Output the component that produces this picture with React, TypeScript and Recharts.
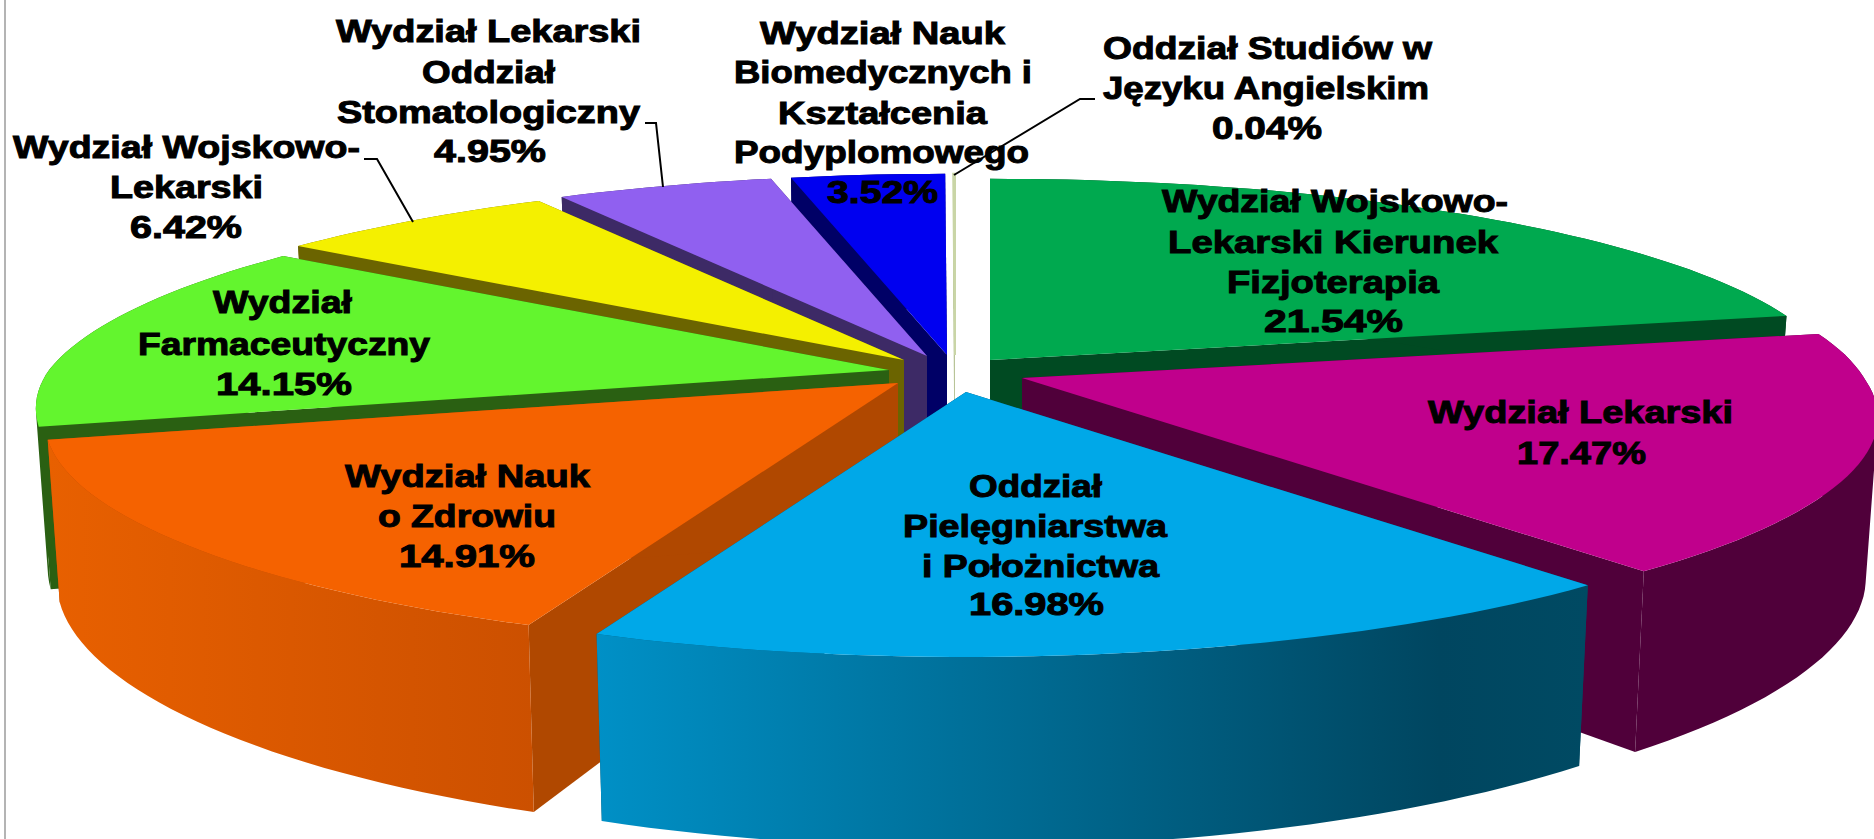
import { PieChart, Pie } from "recharts";

// values as printed on the chart, clockwise from 12 o'clock
const categories = [
  "Wydział Wojskowo-Lekarski Kierunek Fizjoterapia",
  "Wydział Lekarski",
  "Oddział Pielęgniarstwa i Położnictwa",
  "Wydział Nauk o Zdrowiu",
  "Wydział Farmaceutyczny",
  "Wydział Wojskowo-Lekarski",
  "Wydział Lekarski Oddział Stomatologiczny",
  "Wydział Nauk Biomedycznych i Kształcenia Podyplomowego",
  "Oddział Studiów w Języku Angielskim",
];
const shares = [21.54, 17.47, 16.98, 14.91, 14.15, 6.42, 4.95, 3.52, 0.04];
const labelLines = [
  ["Wydział Wojskowo-", "Lekarski Kierunek", "Fizjoterapia"],
  ["Wydział Lekarski"],
  ["Oddział", "Pielęgniarstwa", "i Położnictwa"],
  ["Wydział Nauk", "o Zdrowiu"],
  ["Wydział", "Farmaceutyczny"],
  ["Wydział Wojskowo-", "Lekarski"],
  ["Wydział Lekarski", "Oddział", "Stomatologiczny"],
  ["Wydział Nauk", "Biomedycznych i", "Kształcenia", "Podyplomowego"],
  ["Oddział Studiów w", "Języku Angielskim"],
];

const topColors = ["#00a94f", "#c0008c", "#00a8e8", "#f56200", "#63f52e", "#f4f000", "#9060f0", "#0000f0", "#c9d5a6"];
const edgeColors = ["#004a22", "#50003a", "#004a63", "#b04800", "#2a6012", "#6b6400", "#3d2a66", "#000066", "#b8c498"];
const rimFills = ["#004a22", "#50003a", "url(#blueRim)", "url(#orangeRim)", "#2a6012", "#6b6400", "#3d2a66", "#000066", "#b8c498"];

// painter's order, back to front
const drawOrder = [0, 8, 7, 6, 5, 4, 3, 1, 2];

// where each exploded slice's tip lands, relative to the pie centre
const tipOffsets = [
  [40, -6],
  [72, 12],
  [16, 26],
  [-52, 17],
  [-61, 4],
  [-46, -6],
  [-23, -10],
  [-3, -11],
  [5, -11],
];

// [left, right, baseline] for each text row, last row is the percentage
const labelRows = [
  [[1162, 1508, 212], [1168, 1498, 253], [1227, 1439, 293], [1264, 1403, 332]],
  [[1428, 1733, 423], [1517, 1646, 464]],
  [[969, 1102, 497], [903, 1167, 537], [922, 1159, 577], [969, 1104, 615]],
  [[345, 590, 487], [378, 556, 527], [399, 535, 567]],
  [[213, 352, 313], [138, 430, 355], [216, 352, 395]],
  [[13, 360, 158], [110, 263, 198], [130, 242, 238]],
  [[336, 641, 42], [422, 555, 83], [337, 640, 123], [434, 546, 162]],
  [[760, 1005, 44], [734, 1032, 83], [778, 987, 124], [734, 1029, 163], [827, 938, 203]],
  [[1103, 1432, 59], [1103, 1429, 99], [1212, 1322, 139]],
];
const leaderLines: Record<number, string> = {
  5: "364,159 377,159 413,222",
  6: "645,123 656,123 663,187",
  8: "1095,99 1080,99 954,175",
};

const chartData = categories.map((name, i) => ({ name, value: shares[i] }));

const CX = 950;
const CY = 366;
const RADIUS = 840;
const RIGHT_STRETCH = 842 / 840;
const MINOR_AXIS = 212;
const PERSPECTIVE_FRONT = 0.2;
const PERSPECTIVE_BACK = 0.17;
const DEPTH = 155;
const BOTTOM_SCALE = 0.986;

// the source picture is not a true projection, so x bends differently per quadrant
function xFalloff(sinT: number, yn: number) {
  if (sinT >= 0) return yn >= 0 ? 0.179 : 0.15;
  return yn >= 0 ? 0.175 : 0.2;
}

function project(tip: number[], theta: number, r: number, bottom: boolean): [number, number] {
  const t = (theta * Math.PI) / 180;
  const sinT = Math.sin(t);
  const yn = -r * Math.cos(t);
  const wy = 1 - (yn >= 0 ? PERSPECTIVE_FRONT : PERSPECTIVE_BACK) * yn;
  const wx = 1 - xFalloff(sinT, yn) * yn;
  const k = bottom ? BOTTOM_SCALE : 1;
  const major = sinT >= 0 ? RADIUS * RIGHT_STRETCH : RADIUS;
  const x = tip[0] + (k * r * major * sinT) / wx;
  const y = tip[1] + (k * MINOR_AXIS * yn) / wy + (bottom ? DEPTH / wy : 0);
  return [x, y];
}

function arcPoints(tip: number[], from: number, to: number, bottom: boolean) {
  const steps = Math.max(1, Math.ceil((to - from) / 1.5));
  const pts: [number, number][] = [];
  for (let i = 0; i <= steps; i++) {
    pts.push(project(tip, from + ((to - from) * i) / steps, 1, bottom));
  }
  return pts;
}

const toPoints = (pts: [number, number][]) => pts.map((p) => `${p[0].toFixed(1)},${p[1].toFixed(1)}`).join(" ");

// the outer wall is swept quad by quad so its silhouette stays filled at the sides
function rimPath(top: [number, number][], rim: [number, number][]) {
  let d = "";
  for (let i = 0; i < top.length - 1; i++) {
    let quad = [top[i], top[i + 1], rim[i + 1], rim[i]];
    let area = 0;
    quad.forEach((p, j) => {
      const q = quad[(j + 1) % 4];
      area += p[0] * q[1] - q[0] * p[1];
    });
    if (area < 0) quad = [...quad].reverse();
    d += `M${quad.map((p) => `${p[0].toFixed(1)} ${p[1].toFixed(1)}`).join("L")}Z`;
  }
  return d;
}

function Slice3D(props: any) {
  const { cx, cy, startAngle, endAngle, index } = props;
  const from = 90 - startAngle;
  const to = 90 - endAngle;
  const tip = [cx + tipOffsets[index][0], cy + tipOffsets[index][1]];
  const top = arcPoints(tip, from, to, false);
  const rim = arcPoints(tip, from, to, true);
  const apexTop = project(tip, 0, 0, false);
  const apexBottom = project(tip, 0, 0, true);
  const edge = edgeColors[index];
  return (
    <g>
      <polygon points={toPoints([apexTop, top[0], rim[0], apexBottom])} fill={edge} />
      <polygon points={toPoints([apexTop, top[top.length - 1], rim[rim.length - 1], apexBottom])} fill={edge} />
      <path d={rimPath(top, rim)} fill={rimFills[index]} fillRule="nonzero" />
      <polygon points={toPoints([apexTop, ...top])} fill={topColors[index]} stroke={index === 8 ? topColors[index] : "none"} strokeWidth={index === 8 ? 2 : 0} />
    </g>
  );
}

function SliceLabel(props: any) {
  const { index } = props;
  const rows = labelRows[index];
  const texts = [...labelLines[index], `${shares[index].toFixed(2)}%`];
  return (
    <g>
      {leaderLines[index] && <polyline points={leaderLines[index]} fill="none" stroke="#000" strokeWidth={2} />}
      {texts.map((line, i) => (
        <text
          key={line + i}
          x={rows[i][0]}
          y={rows[i][2]}
          textLength={rows[i][1] - rows[i][0]}
          lengthAdjust="spacingAndGlyphs"
          fontFamily="'Liberation Sans', Arial, sans-serif"
          fontWeight={700}
          fontSize={31}
          fill="#000"
          stroke="#000"
          strokeWidth={1}
        >
          {line}
        </text>
      ))}
    </g>
  );
}

export default function App() {
  return (
    <div style={{ position: "absolute", left: 0, top: 0, width: 1874, height: 839, overflow: "hidden", background: "#fff" }}>
      <div style={{ position: "absolute", left: 4, top: 0, width: 2, height: 839, background: "#b4b4b4" }} />
      <PieChart width={1874} height={839} margin={{ top: 0, right: 0, bottom: 0, left: 0 }}>
        <defs>
          <linearGradient id="blueRim" x1="0" y1="0" x2="1" y2="0">
            <stop offset="0" stopColor="#0090c6" />
            <stop offset="0.85" stopColor="#004660" />
            <stop offset="1" stopColor="#004a63" />
          </linearGradient>
          <linearGradient id="orangeRim" x1="0" y1="0" x2="1" y2="0">
            <stop offset="0" stopColor="#e86000" />
            <stop offset="1" stopColor="#cc5000" />
          </linearGradient>
        </defs>
        {drawOrder.map((idx) => (
          <Pie
            key={idx}
            data={chartData}
            dataKey="value"
            nameKey="name"
            cx={CX}
            cy={CY}
            outerRadius={RADIUS}
            startAngle={90}
            endAngle={-270}
            stroke="none"
            isAnimationActive={false}
            shape={(p: any) => (p.index === idx ? <Slice3D {...p} /> : <g />)}
          />
        ))}
        <Pie
          data={chartData}
          dataKey="value"
          nameKey="name"
          cx={CX}
          cy={CY}
          outerRadius={RADIUS}
          startAngle={90}
          endAngle={-270}
          stroke="none"
          isAnimationActive={false}
          shape={() => <g />}
          labelLine={false}
          label={(p: any) => <SliceLabel {...p} />}
        />
      </PieChart>
    </div>
  );
}
